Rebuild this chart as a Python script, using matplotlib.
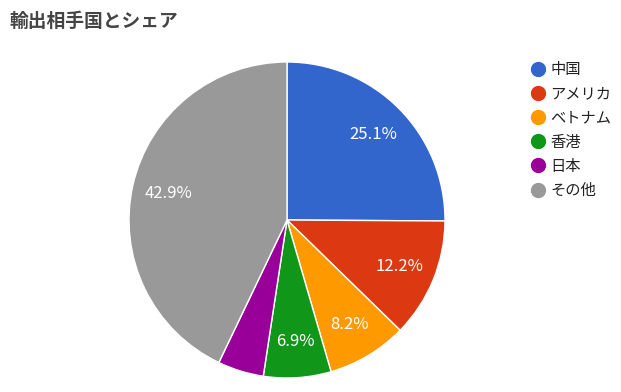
import matplotlib.pyplot as plt
from matplotlib.lines import Line2D

plt.rcParams['font.family'] = ['Noto Sans CJK JP', 'DejaVu Sans']

countries = ['中国', 'アメリカ', 'ベトナム', '香港', '日本', 'その他']
shares = [25.1, 12.2, 8.2, 6.9, 4.7, 42.9]
colors = ['#3366cc', '#dc3912', '#ff9900', '#109618', '#990099', '#999999']

W, H = 621, 392
fig = plt.figure(figsize=(W / 100, H / 100), dpi=100)

cx, cy, r = 287, 220, 158
ax = fig.add_axes([(cx - r) / W, (H - cy - r) / H, 2 * r / W, 2 * r / H])


def pct(p):
    return '%.1f%%' % p if p >= 5 else ''


wedges, texts, autotexts = ax.pie(shares, colors=colors, startangle=90, counterclock=False,
                                  autopct=pct, pctdistance=0.77,
                                  wedgeprops=dict(edgecolor='white', linewidth=1),
                                  textprops=dict(color='white', fontsize=12))
ax.set_xlim(-1, 1)
ax.set_ylim(-1, 1)
ax.set_aspect('auto')
ax.axis('off')

fig.text(10 / W, 1 - 21 / H, '輸出相手国とシェア', fontsize=13.5, fontweight='bold',
         color='#444444', va='center', ha='left')

handles = [Line2D([], [], marker='o', linestyle='', markersize=10,
                  markerfacecolor=c, markeredgecolor=c) for c in colors]
fig.legend(handles, countries, loc='upper left', bbox_to_anchor=(523 / W, 1 - 55 / H),
           frameon=False, fontsize=11, labelspacing=0.47, handletextpad=0.2,
           handlelength=1.2, borderaxespad=0, labelcolor='#222222')

fig.savefig('out.png', dpi=100, facecolor='white')
